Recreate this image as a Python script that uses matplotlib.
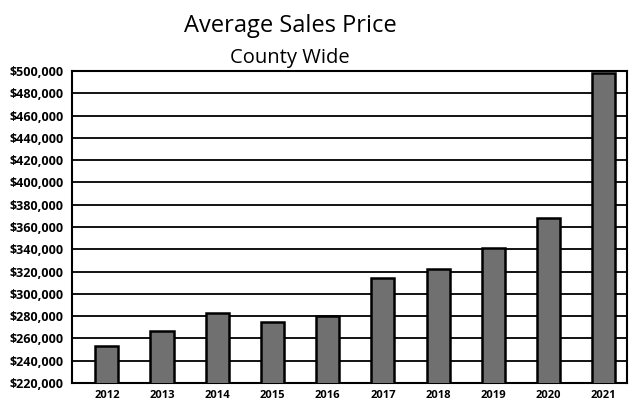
import matplotlib

matplotlib.use("Agg")
import matplotlib.pyplot as plt
from matplotlib.ticker import FuncFormatter, MultipleLocator

# Data
years = ["2012", "2013", "2014", "2015", "2016", "2017", "2018", "2019", "2020", "2021"]
avg_price = [253000, 267000, 283000, 275000, 280000, 314000, 322000, 341000, 368000, 498000]

plt.rcParams["font.family"] = ["Open Sans", "DejaVu Sans"]

fig = plt.figure(figsize=(6.32, 4.04), dpi=100)
ax = fig.add_axes([0.114, 0.052, 0.878, 0.772])

x = range(len(years))
ax.bar(x, avg_price, width=0.42, color="#707070", edgecolor="black", linewidth=1.8, zorder=3)

ax.set_ylim(220000, 500000)
ax.set_xlim(-0.63, 9.42)
ax.yaxis.set_major_locator(MultipleLocator(20000))
ax.yaxis.set_major_formatter(FuncFormatter(lambda v, _: f"${v:,.0f}"))
ax.set_xticks(list(x))
ax.set_xticklabels(years)
ax.tick_params(axis="both", length=0)
ax.tick_params(axis="y", pad=6, labelsize=9)
ax.tick_params(axis="x", pad=5, labelsize=8)
for lbl in ax.get_yticklabels() + ax.get_xticklabels():
    lbl.set_fontweight("bold")

ax.grid(axis="y", color="black", linewidth=1.3, zorder=1)
for side in ["left", "top", "right", "bottom"]:
    ax.spines[side].set_linewidth(1.5)

fig.text(0.459, 0.921, "Average Sales Price", ha="center", va="baseline", fontsize=17, fontweight="medium")
fig.text(0.459, 0.844, "County Wide", ha="center", va="baseline", fontsize=14.5, fontweight="medium")

fig.savefig("out.png", dpi=100, facecolor="white")
